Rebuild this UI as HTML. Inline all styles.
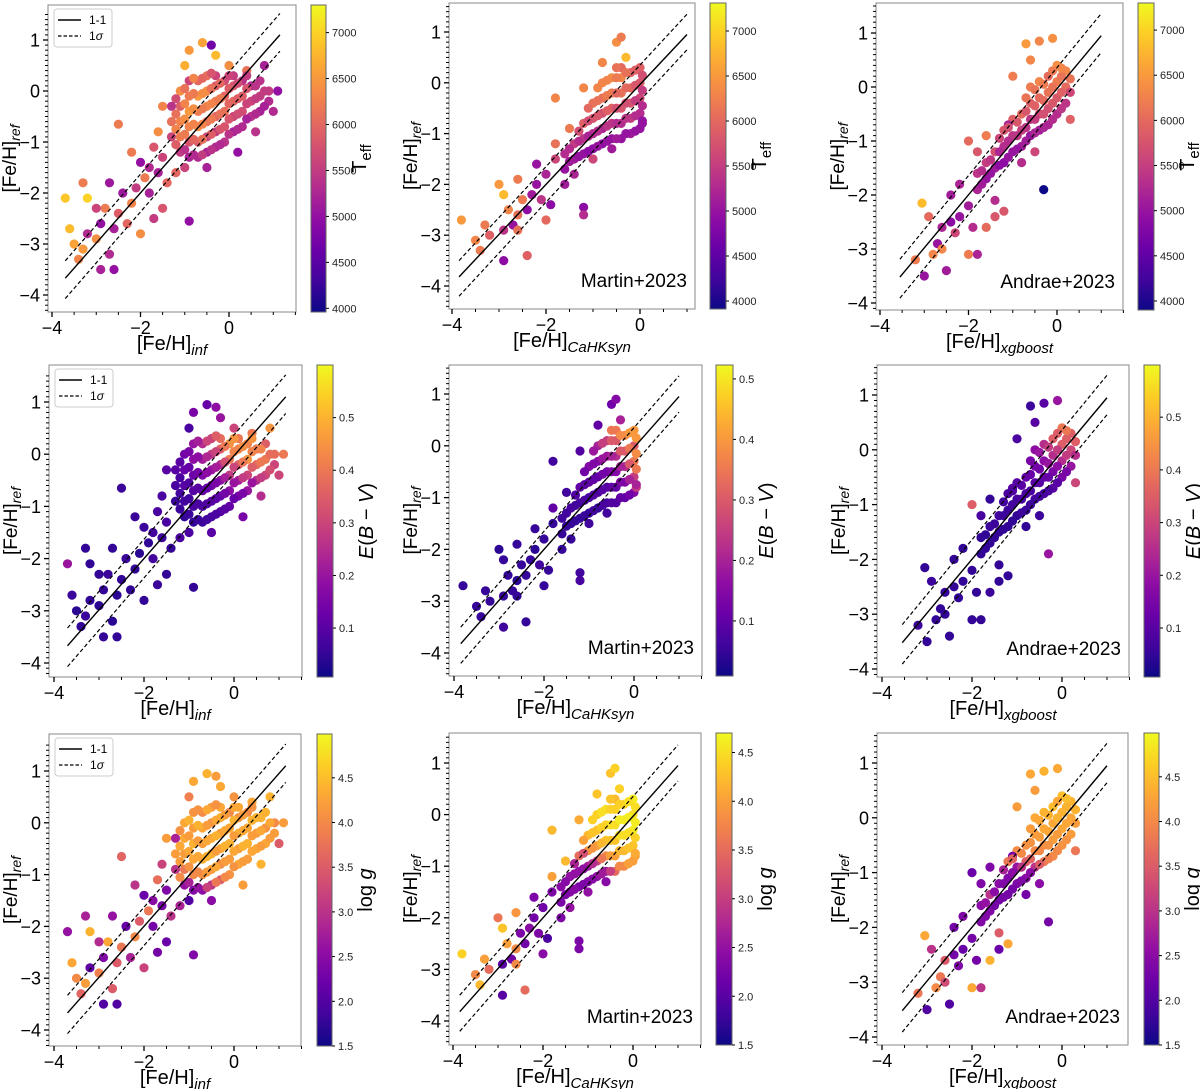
<!DOCTYPE html>
<html><head><meta charset="utf-8">
<style>
html,body{margin:0;padding:0;background:#fff;}
svg{display:block;font-family:"Liberation Sans","DejaVu Sans",sans-serif;}
</style></head>
<body>
<svg id="fig" width="1200" height="1089" viewBox="0 0 1200 1089" xmlns="http://www.w3.org/2000/svg">
<defs>
<linearGradient id="plasma" x1="0" y1="1" x2="0" y2="0">
<stop offset="0" stop-color="#0d0887"/><stop offset="0.1" stop-color="#41049d"/><stop offset="0.2" stop-color="#6a00a8"/>
<stop offset="0.3" stop-color="#8f0da4"/><stop offset="0.4" stop-color="#b12a90"/><stop offset="0.5" stop-color="#cc4778"/>
<stop offset="0.6" stop-color="#e16462"/><stop offset="0.7" stop-color="#f2844b"/><stop offset="0.8" stop-color="#fca636"/>
<stop offset="0.9" stop-color="#fcce25"/><stop offset="1" stop-color="#f0f921"/>
</linearGradient>
</defs>
</svg>
<script>
// ---- data: [Fe/H]_x, [Fe/H]_ref pairs per method column ----
const col0Points = [
[-1.3,-0.9],[-1.3,-0.6],[-1.3,-0.3],
[-1.1,-1.2],[-1.1,-0.9],[-1.1,-0.6],[-1.1,-0.3],[-1.1,0.0],
[-0.9,-1.3],[-0.9,-1.0],[-0.9,-0.7],[-0.9,-0.4],[-0.9,-0.1],[-0.9,0.2],
[-0.7,-1.3],[-0.7,-1.0],[-0.7,-0.7],[-0.7,-0.4],[-0.7,-0.1],[-0.7,0.2],
[-0.5,-1.2],[-0.5,-0.9],[-0.5,-0.6],[-0.5,-0.3],[-0.5,0.0],[-0.5,0.3],
[-0.3,-1.1],[-0.3,-0.8],[-0.3,-0.5],[-0.3,-0.2],[-0.3,0.1],[-0.3,0.3],
[-0.1,-1.0],[-0.1,-0.7],[-0.1,-0.4],[-0.1,-0.1],[-0.1,0.2],
[0.1,-0.8],[0.1,-0.5],[0.1,-0.2],[0.1,0.1],[0.1,0.3],
[0.3,-0.7],[0.3,-0.4],[0.3,-0.1],[0.3,0.2],
[0.5,-0.5],[0.5,-0.2],[0.5,0.1],
[0.7,-0.4],[0.7,-0.1],[0.7,0.2],
[0.9,-0.2],[0.9,0.0],
[-1.5,-1.3],[-1.6,-1.6],[-1.4,-1.8],[-1.8,-1.5],[-1.9,-1.7],[-2.0,-1.4],[-2.1,-1.9],[-2.2,-2.2],[-2.4,-2.0],[-2.5,-2.4],
[-2.3,-2.6],[-2.6,-2.7],[-2.8,-2.3],[-2.9,-2.6],[-3.0,-2.9],[-3.2,-2.8],[-3.3,-3.1],[-3.4,-3.3],[-3.5,-3.0],[-3.6,-2.7],
[-3.7,-2.1],[-3.2,-2.1],[-3.3,-1.8],[-2.7,-3.2],[-2.6,-3.5],[-2.9,-3.5],[-2.0,-2.8],[-1.7,-2.5],[-1.5,-2.3],[-0.9,-2.55],
[-1.8,-2.0],[-1.2,-1.6],[-1.0,-1.5],[-2.5,-0.65],[-1.6,-0.8],[-1.5,-0.3],[-0.9,0.8],[-0.6,0.95],[-0.4,0.9],[-0.3,0.7],
[-1.0,0.5],[0.0,0.5],[0.4,0.4],[0.8,0.5],[1.1,0.0],[1.0,-0.4],[0.6,-0.8],[0.2,-1.2],[-0.5,-1.5],[-2.7,-1.8],
[-3.0,-2.3],[-2.2,-1.2],[-1.7,-1.1]
];
const col0Extra = [
[-1.2,-1.05],[-1.2,-0.75],[-1.2,-0.45],[-1.2,-0.15],
[-1.0,-1.15],[-1.0,-0.85],[-1.0,-0.55],[-1.0,-0.25],[-1.0,0.05],
[-0.8,-1.25],[-0.8,-0.95],[-0.8,-0.65],[-0.8,-0.35],[-0.8,-0.05],[-0.8,0.25],
[-0.6,-1.25],[-0.6,-0.95],[-0.6,-0.65],[-0.6,-0.35],[-0.6,-0.05],[-0.6,0.25],
[-0.4,-1.15],[-0.4,-0.85],[-0.4,-0.55],[-0.4,-0.25],[-0.4,0.05],[-0.4,0.35],
[-0.2,-1.05],[-0.2,-0.75],[-0.2,-0.45],[-0.2,-0.15],[-0.2,0.15],
[0.0,-0.85],[0.0,-0.55],[0.0,-0.25],[0.0,0.05],[0.0,0.3],
[0.2,-0.75],[0.2,-0.45],[0.2,-0.15],[0.2,0.15],
[0.4,-0.55],[0.4,-0.25],[0.4,0.05],[0.4,0.3],
[0.6,-0.45],[0.6,-0.15],[0.6,0.1],
[0.8,-0.3],[0.8,0.0]
];
const col0Teff = [5600,6100,5400, 5500,6200,6300,5900,6400, 5200,5800,6300,6500,6200,5600, 5300,5900,6400,6200,6500,6000, 5200,5600,6100,6300,6400,6100, 5300,5500,6000,6200,5900,5600, 5400,5800,6100,6000,5700, 5200,5600,6000,5800,5500, 5300,5700,5900,5400, 5400,5600,5300, 5200,5500,5400, 5300,5500,
5600,5200,6000,5300,6200,5000,5500,6300,5100,5900,6000,5200,6200,5000,6400,5300,6500,6300,6600,6800,6900,7000,6200,5300,5000,5200,6400,5500,5800,5000,5200,6000,5600,6200,6400,6300,6500,6600,4700,6800,6700,6400,6100,5200,5000,5300,5400,5000,5200,5100,5600,6200,5800];
const col0ExtraTeff = [5900,6300,6100,5700, 5400,6200,6400,6300,6100, 5300,6000,6300,6400,6200,6300, 5500,6100,6300,6200,6400,6000, 5400,5900,6200,6300,6100,5800, 5300,5800,6100,6200,6000, 5400,5800,6000,5900,5600, 5300,5700,5900,5700, 5200,5600,5800,5500, 5300,5500,5400, 5200,5500];
const col0Ebv = [0.06,0.08,0.1, 0.05,0.07,0.1,0.12,0.14, 0.05,0.08,0.1,0.13,0.18,0.2, 0.06,0.09,0.12,0.16,0.22,0.25, 0.08,0.1,0.14,0.2,0.28,0.3, 0.1,0.12,0.18,0.25,0.35,0.38, 0.12,0.18,0.28,0.4,0.45, 0.15,0.22,0.35,0.42,0.4, 0.2,0.3,0.45,0.42, 0.25,0.38,0.4, 0.3,0.4,0.35, 0.3,0.38,
0.08,0.06,0.05,0.07,0.05,0.06,0.04,0.05,0.06,0.05,0.05,0.04,0.06,0.05,0.04,0.05,0.06,0.05,0.04,0.06,0.2,0.05,0.05,0.04,0.05,0.05,0.05,0.06,0.05,0.05,0.07,0.08,0.08,0.06,0.08,0.1,0.15,0.12,0.18,0.2,0.08,0.3,0.4,0.45,0.4,0.3,0.25,0.15,0.1,0.05,0.05,0.06,0.08];
const col0ExtraEbv = [0.06,0.07,0.08,0.1, 0.06,0.07,0.09,0.12,0.15, 0.06,0.08,0.1,0.14,0.18,0.22, 0.07,0.09,0.12,0.18,0.24,0.3, 0.08,0.1,0.15,0.22,0.3,0.35, 0.1,0.14,0.22,0.32,0.4, 0.12,0.2,0.3,0.42,0.45, 0.15,0.28,0.4,0.44, 0.2,0.35,0.42,0.45, 0.28,0.4,0.42, 0.32,0.38];
const col0Logg = [3.0,4.2,2.8, 2.6,3.8,4.2,4.3,4.3, 2.4,4.0,4.3,4.4,4.2,4.1, 2.5,4.1,4.4,4.2,4.3,4.0, 3.0,4.2,4.4,4.3,4.1,4.2, 3.5,4.0,4.3,4.2,4.4,4.3, 4.1,4.2,4.4,4.3,4.0, 4.3,4.2,4.4,4.1,4.3, 4.2,4.4,4.3,4.0, 4.3,4.2,4.4, 4.3,4.1,4.4, 4.2,4.0,
2.4,2.3,3.0,2.5,3.8,2.2,3.5,4.0,2.2,3.8,2.8,3.5,4.3,2.4,3.9,2.1,4.2,3.6,4.0,4.3,2.6,4.4,2.8,3.5,2.0,2.0,3.2,2.3,2.2,2.4,2.3,2.8,2.0,3.6,3.2,4.2,4.3,4.4,4.2,4.3,3.9,4.1,4.3,4.4,4.2,3.5,4.4,4.2,2.5,2.6,2.9,3.0,3.7];
const col0ExtraLogg = [4.0,4.2,4.3,4.1, 2.8,4.1,4.3,4.2,4.4, 2.6,4.0,4.3,4.2,4.4,4.1, 3.2,4.2,4.4,4.3,4.2,4.3, 3.8,4.3,4.2,4.4,4.3,4.1, 4.0,4.2,4.4,4.3,4.2, 4.1,4.3,4.2,4.4,4.3, 4.2,4.4,4.3,4.2, 4.3,4.2,4.4,4.1, 4.2,4.3,4.4, 4.2,4.3];

const col1Points = [
[-1.6,-1.7],[-1.6,-1.4],[-1.4,-1.5],[-1.4,-1.2],
[-1.2,-1.4],[-1.2,-1.1],[-1.2,-0.8],
[-1.0,-1.3],[-1.0,-1.0],[-1.0,-0.7],[-1.0,-0.4],
[-0.8,-1.2],[-0.8,-0.9],[-0.8,-0.6],[-0.8,-0.3],[-0.8,0.0],
[-0.6,-1.1],[-0.6,-0.8],[-0.6,-0.5],[-0.6,-0.2],[-0.6,0.1],
[-0.4,-1.1],[-0.4,-0.8],[-0.4,-0.5],[-0.4,-0.2],[-0.4,0.1],[-0.4,0.3],
[-0.2,-1.0],[-0.2,-0.7],[-0.2,-0.4],[-0.2,-0.1],[-0.2,0.2],
[0.0,-0.9],[0.0,-0.6],[0.0,-0.3],[0.0,0.0],[0.0,0.3],
[-1.8,-1.5],[-2.0,-1.8],[-2.2,-2.0],[-2.3,-2.2],[-2.1,-2.3],[-2.4,-2.5],[-2.5,-2.3],[-2.6,-2.6],[-2.7,-2.8],[-2.8,-2.5],
[-2.9,-2.9],[-3.0,-2.0],[-2.9,-2.2],[-3.2,-3.0],[-3.4,-3.3],[-3.5,-3.1],[-2.9,-3.5],[-2.4,-3.4],[-2.0,-2.7],[-1.2,-2.45],
[-1.2,-2.6],[-1.8,-1.2],[-1.5,-0.9],[-1.8,-0.3],[-1.2,-0.1],[-0.8,0.4],[-0.5,0.8],[-0.4,0.9],[-0.3,0.5],[-1.6,-2.0],
[-1.9,-2.4],[-3.8,-2.7],[-2.6,-1.9],[-2.2,-1.6],[-1.4,-1.8],[-0.6,-1.3],[0.05,-0.8],[-1.0,-1.5],[-2.6,-2.9],[-3.3,-2.8]
];
const col1Extra = [
[-1.5,-1.55],[-1.5,-1.3],
[-1.3,-1.45],[-1.3,-1.15],[-1.3,-0.95],
[-1.1,-1.35],[-1.1,-1.05],[-1.1,-0.75],[-1.1,-0.5],
[-0.9,-1.25],[-0.9,-0.95],[-0.9,-0.65],[-0.9,-0.35],[-0.9,-0.1],
[-0.7,-1.15],[-0.7,-0.85],[-0.7,-0.55],[-0.7,-0.25],[-0.7,0.05],
[-0.5,-1.1],[-0.5,-0.8],[-0.5,-0.5],[-0.5,-0.2],[-0.5,0.1],[-0.5,0.3],
[-0.3,-1.0],[-0.3,-0.7],[-0.3,-0.4],[-0.3,-0.1],[-0.3,0.2],
[-0.1,-0.95],[-0.1,-0.65],[-0.1,-0.35],[-0.1,-0.05],[-0.1,0.25],
[0.05,-0.75],[0.05,-0.45],[0.05,-0.15],[0.05,0.15]
];
const col1Teff = [5000,5300,5100,5500, 5000,5400,5900, 4900,5300,5800,6100, 4900,5200,5700,6100,6300, 5000,5400,5900,6200,6400, 5000,5300,5800,6100,6300,6000, 5100,5500,5800,6000,5900, 5000,5300,5600,5800,5900,
5600,5200,5000,5100,5400,4900,6200,6100,5000,6300,5400,6500,6800,5900,6200,6300,4900,5900,6000,4900,5300,6100,6200,6300,6300,6300,6400,6200,6800,5100,4900,6500,6200,5000,5200,5100,5000,5600,6100,6200];
const col1ExtraTeff = [5100,5300, 5000,5300,5700, 4900,5200,5700,6000, 5000,5300,5800,6100,6300, 5000,5400,5900,6200,6300, 5100,5300,5700,6000,6200,6100, 5000,5400,5700,6000,6100, 5000,5300,5500,5800,5900, 5000,5300,5500,5700];
const col1Ebv = [0.05,0.06,0.05,0.07, 0.05,0.07,0.1, 0.05,0.07,0.1,0.15, 0.05,0.07,0.1,0.15,0.2, 0.06,0.08,0.12,0.18,0.25, 0.08,0.1,0.15,0.22,0.3,0.35, 0.1,0.15,0.22,0.3,0.38, 0.15,0.25,0.35,0.3,0.4,
0.05,0.05,0.04,0.05,0.06,0.05,0.05,0.04,0.05,0.05,0.05,0.04,0.05,0.05,0.05,0.05,0.06,0.05,0.05,0.06,0.07,0.1,0.06,0.06,0.08,0.1,0.12,0.15,0.2,0.05,0.05,0.05,0.05,0.05,0.05,0.06,0.25,0.06,0.05,0.05];
const col1ExtraEbv = [0.05,0.06, 0.05,0.06,0.08, 0.05,0.07,0.09,0.12, 0.06,0.08,0.1,0.14,0.18, 0.07,0.09,0.12,0.18,0.25, 0.08,0.1,0.14,0.2,0.3,0.35, 0.1,0.14,0.2,0.3,0.38, 0.12,0.2,0.3,0.35,0.4, 0.2,0.35,0.38,0.4];
const col1Logg = [2.3,2.4,2.4,2.5, 2.3,2.5,3.5, 2.4,2.6,3.9,4.2, 2.5,3.0,4.0,4.3,4.4, 2.6,3.8,4.3,4.4,4.5, 3.5,4.0,4.3,4.5,4.4,4.2, 3.8,4.2,4.5,4.6,4.4, 4.0,4.3,4.6,4.5,4.6,
2.3,2.2,2.2,2.4,2.3,2.2,2.3,3.8,2.2,4.0,2.0,3.6,4.3,3.5,4.2,3.8,2.0,3.5,2.4,2.3,2.3,4.0,4.2,4.2,4.1,4.3,4.3,4.4,4.4,2.3,1.9,4.4,3.9,2.3,2.5,2.4,4.0,2.5,3.8,4.0];
const col1ExtraLogg = [2.3,2.4, 2.4,2.5,2.7, 2.3,2.5,3.2,4.0, 2.4,2.8,3.9,4.3,4.4, 2.6,3.6,4.2,4.4,4.5, 3.0,4.0,4.3,4.5,4.4,4.3, 3.8,4.2,4.5,4.6,4.4, 4.0,4.3,4.5,4.6,4.5, 4.1,4.4,4.6,4.5];

const col2Points = [
[-1.8,-1.9],[-1.8,-1.6],[-1.6,-1.7],[-1.6,-1.4],[-1.4,-1.5],[-1.4,-1.2],
[-1.2,-1.4],[-1.2,-1.1],[-1.2,-0.8],[-1.0,-1.2],[-1.0,-0.9],[-1.0,-0.6],
[-0.8,-1.1],[-0.8,-0.8],[-0.8,-0.5],
[-0.6,-0.9],[-0.6,-0.6],[-0.6,-0.3],[-0.6,0.0],
[-0.4,-0.8],[-0.4,-0.5],[-0.4,-0.2],[-0.4,0.1],
[-0.2,-0.7],[-0.2,-0.4],[-0.2,-0.1],[-0.2,0.2],
[0.0,-0.5],[0.0,-0.2],[0.0,0.1],[0.0,0.4],
[0.2,-0.3],[0.2,0.0],[0.2,0.3],
[-2.0,-2.2],[-2.2,-2.4],[-2.4,-2.5],[-2.3,-2.7],[-2.6,-2.6],[-2.7,-2.9],[-2.8,-3.1],[-3.0,-3.5],[-3.2,-3.2],[-2.5,-3.4],
[-2.6,-3.0],[-2.0,-3.1],[-1.8,-3.1],[-1.6,-2.6],[-1.4,-2.4],[-1.2,-2.3],[-1.4,-2.1],[-3.05,-2.15],[-2.9,-2.4],[-1.8,-1.2],
[-2.0,-1.0],[-1.1,-0.7],[-1.0,0.2],[-0.6,0.5],[-0.4,0.85],[-0.7,0.8],[-0.1,0.9],[-0.3,-1.9],[0.3,-0.6],[-0.5,-1.2],
[-2.2,-1.8],[-1.9,-2.6],[-2.4,-2.0],[-1.6,-0.9],[-0.8,-1.4]
];
const col2Extra = [
[-1.7,-1.8],[-1.7,-1.55],[-1.5,-1.6],[-1.5,-1.35],
[-1.3,-1.45],[-1.3,-1.2],[-1.3,-0.95],
[-1.1,-1.3],[-1.1,-1.0],[-1.1,-0.75],
[-0.9,-1.15],[-0.9,-0.9],[-0.9,-0.65],
[-0.7,-1.0],[-0.7,-0.75],[-0.7,-0.45],[-0.7,-0.2],
[-0.5,-0.85],[-0.5,-0.6],[-0.5,-0.35],[-0.5,-0.05],
[-0.3,-0.75],[-0.3,-0.5],[-0.3,-0.25],[-0.3,0.05],
[-0.1,-0.6],[-0.1,-0.3],[-0.1,0.0],[-0.1,0.3],
[0.1,-0.4],[0.1,-0.1],[0.1,0.2],[0.1,0.35],
[0.3,-0.1],[0.3,0.15]
];
const col2Teff = [5200,5400, 5000,5500, 5100,5700, 4900,5300,5800, 5000,5400,5900, 5100,5500,6000, 5000,5400,5900,6200, 5100,5600,6000,6300, 5200,5700,6100,6000, 5300,5800,6200,6400, 5400,6000,6300,
5100,5000,4900,5600,5200,5000,6300,5000,6200,5100,6300,6200,5200,6000,5800,5800,5300,6800,6000,5800,6000,5200,6200,6300,6300,6500,6400,3900,5900,5600,5200,5300,5100,6200,5300];
const col2ExtraTeff = [5100,5300, 5000,5400, 4900,5200,5600, 5000,5300,5700, 5000,5400,5800, 5100,5400,5800,6100, 5200,5500,5900,6100, 5200,5700,6000,6200, 5300,5800,6100,6200, 5400,5900,6100,6300, 5600,6100];
const col2Ebv = [0.05,0.05, 0.05,0.06, 0.05,0.07, 0.05,0.06,0.08, 0.05,0.07,0.1, 0.06,0.08,0.12, 0.07,0.1,0.14,0.18, 0.08,0.12,0.18,0.25, 0.1,0.15,0.25,0.35, 0.15,0.25,0.35,0.4, 0.2,0.3,0.35,
0.05,0.05,0.05,0.05,0.05,0.05,0.05,0.05,0.06,0.05,0.05,0.05,0.05,0.06,0.05,0.05,0.05,0.05,0.06,0.08,0.35,0.1,0.08,0.1,0.1,0.06,0.2,0.2,0.3,0.06,0.05,0.05,0.05,0.05,0.05];
const col2ExtraEbv = [0.05,0.05, 0.05,0.06, 0.05,0.06,0.07, 0.05,0.07,0.09, 0.06,0.08,0.1, 0.06,0.08,0.12,0.15, 0.07,0.1,0.14,0.2, 0.08,0.12,0.2,0.28, 0.1,0.18,0.28,0.35, 0.15,0.28,0.35,0.4, 0.25,0.35];
const col2Logg = [2.4,2.5, 2.4,3.0, 2.3,2.5, 2.3,2.4,3.8, 2.4,2.6,4.0, 2.5,3.5,4.1, 3.0,4.0,4.2,4.3, 3.8,4.1,4.3,4.4, 4.0,4.2,4.3,4.5, 4.1,4.3,4.4,4.5, 4.2,4.3,4.4,
2.3,2.2,2.3,2.4,3.5,3.8,4.0,2.0,3.8,2.0,3.3,4.3,3.0,4.4,2.2,4.3,3.5,4.3,3.0,2.4,2.2,2.3,4.2,4.2,4.4,4.3,4.3,2.3,3.8,2.5,2.4,2.3,2.3,2.4,2.3];
const col2ExtraLogg = [2.4,2.6, 2.3,2.5, 2.3,2.4,2.8, 2.3,2.5,3.6, 2.4,3.0,4.0, 2.5,3.6,4.1,4.2, 3.5,4.0,4.2,4.3, 3.9,4.1,4.3,4.4, 4.0,4.2,4.4,4.3, 4.1,4.3,4.4,4.5, 4.2,4.4];

// 1-1 line extents and 1-sigma per column
const lineStart = [-3.7, -3.85, -3.55];
const lineEnd = [1.15, 1.0, 1.0];
const sigma = [0.37, 0.35, 0.36];
const xTicks = [-4, -2, 0];
const yTicks = [1, 0, -1, -2, -3, -4];
const teffTicks = [4000, 4500, 5000, 5500, 6000, 6500, 7000];
const ebvTicks = [0.1, 0.2, 0.3, 0.4, 0.5];
const loggTicks = [1.5, 2.0, 2.5, 3.0, 3.5, 4.0, 4.5];

const colPoints = [col0Points.concat(col0Extra), col1Points.concat(col1Extra), col2Points.concat(col2Extra)];
const colColors = [
 [col0Teff.concat(col0ExtraTeff), col0Ebv.concat(col0ExtraEbv), col0Logg.concat(col0ExtraLogg)],
 [col1Teff.concat(col1ExtraTeff), col1Ebv.concat(col1ExtraEbv), col1Logg.concat(col1ExtraLogg)],
 [col2Teff.concat(col2ExtraTeff), col2Ebv.concat(col2ExtraEbv), col2Logg.concat(col2ExtraLogg)]];
const subs = ['inf', 'CaHKsyn', 'xgboost'];
const notes = ['', 'Martin+2023', 'Andrae+2023'];
const tickSets = [teffTicks, ebvTicks, loggTicks];

// layout (pixel geometry) per panel [row][col]
const layout = [
 [{L:48,R:296,T:5,B:312,xa:52,xb:229,ya:40,yb:295,cL:311,cR:326,vmin:3960,vmax:7300},
  {L:449,R:695,T:3,B:309,xa:452,xb:640,ya:32,yb:286,cL:710,cR:726,vmin:3911,vmax:7311},
  {L:876,R:1123,T:3,B:310,xa:880,xb:1057,ya:33,yb:303,cL:1138,cR:1154,vmin:3900,vmax:7300}],
 [{L:49,R:302,T:365,B:677,xa:54,xb:234,ya:402,yb:663,cL:317,cR:333,vmin:0.007,vmax:0.60},
  {L:449,R:702,T:365,B:676,xa:454,xb:634,ya:394,yb:653,cL:716,cR:733,vmin:0.009,vmax:0.523},
  {L:877,R:1129,T:365,B:677,xa:882,xb:1062,ya:395,yb:669,cL:1144,cR:1160,vmin:0.007,vmax:0.599}],
 [{L:49,R:301,T:734,B:1046,xa:54,xb:234,ya:771,yb:1030,cL:317,cR:332,vmin:1.5,vmax:4.99},
  {L:449,R:701,T:733,B:1045,xa:453,xb:633,ya:763,yb:1021,cL:716,cR:732,vmin:1.5,vmax:4.70},
  {L:877,R:1128,T:733,B:1045,xa:882,xb:1062,ya:763,yb:1037,cL:1144,cR:1159,vmin:1.5,vmax:4.99}]
];

const stops = [[13,8,135],[65,4,157],[106,0,168],[143,13,164],[177,42,144],[204,71,120],[225,100,98],[242,132,75],[252,166,54],[252,206,37],[240,249,33]];
function plasma(t){t=Math.max(0,Math.min(1,t));const f=t*10,i=Math.min(9,Math.floor(f)),u=f-i;
 const a=stops[i],b=stops[i+1];return 'rgb('+a.map((v,k)=>Math.round(v+(b[k]-v)*u)).join(',')+')';}

const NS='http://www.w3.org/2000/svg';
const svg=document.getElementById('fig');
function mk(tag,attrs,parent){const e=document.createElementNS(NS,tag);for(const k in attrs)e.setAttribute(k,attrs[k]);(parent||svg).appendChild(e);return e;}

for(let r=0;r<3;r++){for(let c=0;c<3;c++){
 const P=layout[r][c];
 const sx=v=>P.xb+(P.xa-P.xb)*(v/-4);
 const sy=v=>P.ya+(v-1)*(P.yb-P.ya)/(-5);
 const g=mk('g',{});
 
 
 mk('rect',{x:P.L,y:P.T,width:P.R-P.L,height:P.B-P.T,fill:'#fff'},g);
 const pg=mk('g',{},g);
 
 
 const pts=colPoints[c], cv=colColors[c][r];
 pts.forEach((p,i)=>{const v=cv[i]!==undefined?cv[i]:cv[0];
  const d=mk('circle',{cx:sx(p[0]).toFixed(1),cy:sy(p[1]).toFixed(1),r:4.6,fill:plasma((v-P.vmin)/(P.vmax-P.vmin))},pg);
  
  });
 const x1=lineStart[c],x2=lineEnd[c],s=sigma[c];
 const l1=mk('line',{x1:sx(x1),y1:sy(x1+0.03),x2:sx(x2),y2:sy(x2-0.05),stroke:'#000','stroke-width':1.4},g);
 
 
 [s,-s].forEach(o=>{const l=mk('line',{x1:sx(x1),y1:sy(x1+o),x2:sx(x2),y2:sy(x2+o),stroke:'#000','stroke-width':1.2,'stroke-dasharray':'4,2.5'},g);
  
  });
 mk('rect',{x:P.L,y:P.T,width:P.R-P.L,height:P.B-P.T,fill:'none',stroke:'#888','stroke-width':1},g);
 for(let v=-4;v<=1.5;v+=0.5){const X=sx(v);if(X<P.L-0.5||X>P.R+0.5)continue;
  const maj=xTicks.includes(v);mk('line',{x1:X,y1:P.B,x2:X,y2:P.B+(maj?5:3),stroke:'#000','stroke-width':maj?1.3:1},g);}
 xTicks.forEach(v=>{const t=mk('text',{x:sx(v),y:P.B+22,'font-size':18,'text-anchor':'middle'},g);t.textContent=(v<0?'\u2212'+(-v):v);
  
  });
 for(let k=-45;k<=15;k++){const v=k/10;const Y=sy(v);if(Y<P.T||Y>P.B)continue;
  const maj=(k%10===0);mk('line',{x1:P.L,y1:Y,x2:P.L-(maj?5:3),y2:Y,stroke:'#000','stroke-width':maj?1.3:1},g);}
 yTicks.forEach(v=>{const t=mk('text',{x:P.L-8,y:sy(v)+6.5,'font-size':18,'text-anchor':'end'},g);t.textContent=(v<0?'\u2212'+(-v):v);
  
  });
 const xl=mk('text',{x:(P.L+P.R)/2,y:P.B+38,'font-size':20,'text-anchor':'middle'},g);
 
 
 xl.innerHTML='[Fe/H]<tspan font-size="15" font-style="italic" dy="5">'+subs[c]+'</tspan>';
 const ycx=P.L-32, ycy=(P.T+P.B)/2;
 const yl=mk('text',{x:ycx,y:ycy,'font-size':19,'text-anchor':'middle',transform:'rotate(-90 '+ycx+' '+ycy+')'},g);
 
 
 yl.innerHTML='[Fe/H]<tspan font-size="14" font-style="italic" dy="4">ref</tspan>';
 if(notes[c]){const a=mk('text',{x:P.R-8,y:P.B-22,'font-size':19,'text-anchor':'end'},g);a.textContent=notes[c];
  
  }
 if(c===0){const lg=mk('g',{},g);
  
  
  const lx=P.L+6, ly=P.T+4;
  mk('rect',{x:lx,y:ly,width:58,height:38,rx:3,fill:'#fff',stroke:'#ccc'},lg);
  mk('line',{x1:lx+4,y1:ly+11,x2:lx+27,y2:ly+11,stroke:'#000','stroke-width':1.4},lg);
  mk('line',{x1:lx+4,y1:ly+27,x2:lx+27,y2:ly+27,stroke:'#000','stroke-width':1.2,'stroke-dasharray':'3.5,2'},lg);
  const t1=mk('text',{x:lx+35,y:ly+15,'font-size':12},lg);t1.textContent='1-1';
  
  
  const t2=mk('text',{x:lx+35,y:ly+31,'font-size':12},lg);t2.innerHTML='1<tspan font-style="italic">σ</tspan>';
  
  }
 const cb=mk('g',{},g);
 
 
 mk('rect',{x:P.cL,y:P.T,width:P.cR-P.cL,height:P.B-P.T,fill:'url(#plasma)',stroke:'#666','stroke-width':1},cb);
 const cy=v=>P.B-(v-P.vmin)/(P.vmax-P.vmin)*(P.B-P.T);
 tickSets[r].forEach(v=>{const Y=cy(v);if(Y<P.T-1||Y>P.B+1)return;
  mk('line',{x1:P.cR,y1:Y,x2:P.cR+3,y2:Y,stroke:'#000'},cb);
  const t=mk('text',{x:P.cR+6,y:Y+4,'font-size':11,fill:'#222'},cb);t.textContent=(r===0?v:v.toFixed(1));
  
  });
 const clx=P.cR+40, cly=(P.T+P.B)/2;
 const ct=mk('text',{x:clx,y:cly,'font-size':20,'text-anchor':'middle',transform:'rotate(-90 '+clx+' '+cly+')'},cb);
 
 
 if(r===0) ct.innerHTML='T<tspan font-size="15" dy="5">eff</tspan>';
 else if(r===1) ct.innerHTML='<tspan font-style="italic">E</tspan>(<tspan font-style="italic">B</tspan> \u2212 <tspan font-style="italic">V</tspan>)';
 else ct.innerHTML='log <tspan font-style="italic">g</tspan>';
}}
</script>
</body></html>
